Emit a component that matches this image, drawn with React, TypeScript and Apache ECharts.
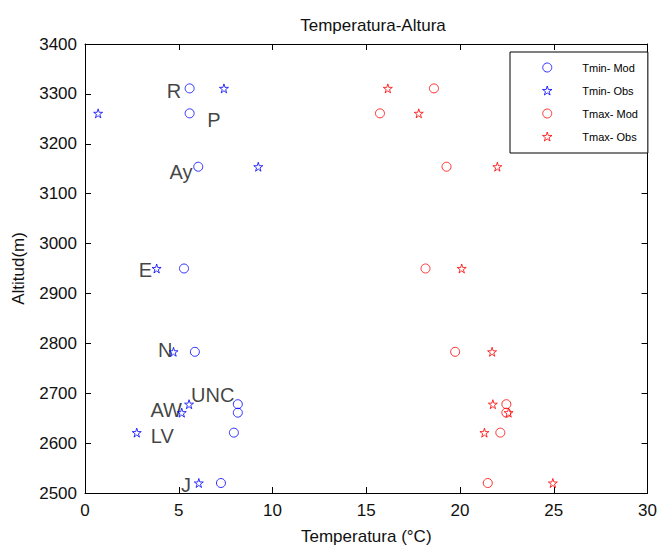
import React, { useEffect, useRef } from "react";
import * as echarts from "echarts";

const siteNames = ["R", "P", "Ay", "E", "N", "UNC", "AW", "LV", "J"];
const altitudes = [3311, 3261, 3154, 2950, 2783, 2678, 2661, 2621, 2520];
const tminMod = [5.58, 5.58, 6.04, 5.28, 5.86, 8.15, 8.15, 7.94, 7.25];
const tminObs = [7.41, 0.7, 9.24, 3.82, 4.72, 5.55, 5.16, 2.76, 6.07];
const tmaxMod = [18.61, 15.73, 19.28, 18.16, 19.74, 22.47, 22.47, 22.15, 21.48];
const tmaxObs = [16.15, 17.8, 21.99, 20.09, 21.71, 21.75, 22.59, 21.3, 24.95];
// text annotation anchors (data units)
const labelX = [4.75, 6.87, 5.12, 3.22, 4.28, 6.81, 4.33, 4.12, 5.39];
const labelY = [3306, 3248, 3144, 2946, 2786, 2696, 2666, 2614, 2516];
const xTicks = { min: 0, max: 30, interval: 5 };
const yTicks = { min: 2500, max: 3400, interval: 100 };
const legendNames = ["Tmin- Mod", "Tmin- Obs", "Tmax- Mod", "Tmax- Obs"];
const legendColors = ["#0000ff", "#0000ff", "#ff0000", "#ff0000"];

const STAR =
  "path://M50,0 L61,35 L98,35 L68,57 L79,91 L50,70 L21,91 L32,57 L2,35 L39,35 Z";
const FONT = "Liberation Sans, Arial, sans-serif";

export default function App() {
  const ref = useRef<HTMLDivElement>(null);
  useEffect(() => {
    if (!ref.current) return;
    const chart = echarts.init(ref.current, null, { renderer: "svg" });
    const pts = (xs: number[]) => xs.map((x, i) => [x, altitudes[i]]);
    const axisCommon = {
      axisLine: { show: true, onZero: false, lineStyle: { color: "#000", width: 1 } },
      axisTick: { show: true, inside: true, length: 6, lineStyle: { color: "#000" } },
      splitLine: { show: false },
    };
    const markSeries = (name: string, color: string, xs: number[], symbol: string) => ({
      name,
      type: "scatter",
      symbol,
      symbolSize: 9,
      itemStyle: { color: "rgba(0,0,0,0)", borderColor: color, borderWidth: 1 },
      data: pts(xs),
      z: 3,
    });
    chart.setOption({
      animation: false,
      backgroundColor: "#fff",
      textStyle: { fontFamily: FONT },
      title: {
        text: "Temperatura-Altura",
        left: 368,
        textAlign: "center",
        top: 12,
        textStyle: { fontSize: 17, fontWeight: "normal", color: "#111", fontFamily: FONT },
      },
      legend: {
        data: legendNames.map((n, i) => ({
          name: n,
          icon: i % 2 === 0 ? "circle" : STAR,
          itemStyle: { color: "rgba(0,0,0,0)", borderColor: legendColors[i], borderWidth: 1 },
        })),
        orient: "vertical",
        left: 510,
        top: 52,
        padding: [10, 10, 11, 32],
        itemWidth: 60,
        itemHeight: 9,
        itemGap: 12,
        borderColor: "#000",
        borderWidth: 1,
        backgroundColor: "#fff",
        textStyle: { fontSize: 11, color: "#000", fontFamily: FONT },
      },
      grid: { left: 85, right: 7, top: 44, bottom: 56, containLabel: false },
      xAxis: [
        {
          type: "value",
          ...xTicks,
          position: "bottom",
          ...axisCommon,
          name: "Temperatura (°C)",
          nameLocation: "middle",
          nameGap: 35,
          nameTextStyle: { fontSize: 17, color: "#111", fontFamily: FONT },
          axisLabel: { fontSize: 17, color: "#111", margin: 9, fontFamily: FONT, formatter: (v: number) => String(v) },
        },
        {
          type: "value",
          ...xTicks,
          position: "top",
          ...axisCommon,
          axisLabel: { show: false },
        },
      ],
      yAxis: [
        {
          type: "value",
          ...yTicks,
          position: "left",
          ...axisCommon,
          name: "Altitud(m)",
          nameLocation: "middle",
          nameGap: 58,
          nameTextStyle: { fontSize: 17, color: "#111", fontFamily: FONT },
          axisLabel: { fontSize: 17, color: "#111", margin: 8, fontFamily: FONT, formatter: (v: number) => String(v) },
        },
        {
          type: "value",
          ...yTicks,
          position: "right",
          ...axisCommon,
          axisLabel: { show: false },
        },
      ],
      series: [
        markSeries(legendNames[0], "#0000ff", tminMod, "circle"),
        markSeries(legendNames[1], "#0000ff", tminObs, STAR),
        markSeries(legendNames[2], "#ff0000", tmaxMod, "circle"),
        markSeries(legendNames[3], "#ff0000", tmaxObs, STAR),
        {
          name: "labels",
          type: "scatter",
          symbolSize: 0,
          silent: true,
          z: 2,
          data: siteNames.map((n, i) => ({ name: n, value: [labelX[i], labelY[i]] })),
          label: {
            show: true,
            position: "inside",
            formatter: (p: any) => p.name,
            fontSize: 20,
            color: "#111",
            fontFamily: FONT,
          },
        },
      ],
    });
    return () => chart.dispose();
  }, []);
  return (
    <div
      ref={ref}
      style={{ position: "fixed", left: 0, top: 0, width: 660, height: 550 }}
    />
  );
}
